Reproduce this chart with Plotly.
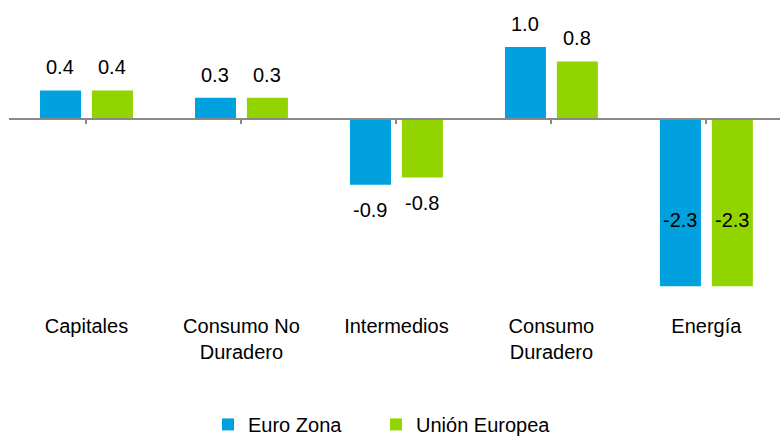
import plotly.graph_objects as go

categories = ["Capitales", "Consumo No<br>Duradero", "Intermedios", "Consumo<br>Duradero", "Energía"]
euro_zona = [0.4, 0.3, -0.9, 1.0, -2.3]
union_europea = [0.4, 0.3, -0.8, 0.8, -2.3]
series_names = ["Euro Zona", "Unión Europea"]
colors = ["#00A1DE", "#92D400"]

YMIN, YMAX = -2.35, 1.55
FONT = "Arial"
FS = 20

fig = go.Figure()
for i, (name, vals, col) in enumerate(zip(series_names, [euro_zona, union_europea], colors)):
    fig.add_trace(go.Bar(x=categories, y=vals, name=name, marker=dict(color=col, line=dict(width=0)),
                         hoverinfo="skip", legend="legend" if i == 0 else "legend2"))

# invisible trace for the zero axis
fig.add_trace(go.Scatter(x=categories, y=[0]*len(categories), xaxis="x2", mode="none",
                         showlegend=False, hoverinfo="skip"))

annotations = []
for si, vals in enumerate([euro_zona, union_europea]):
    xs = -26 if si == 0 else 26
    for c, v in zip(categories, vals):
        label = f"{v:.1f}"
        if v >= 0:
            annotations.append(dict(x=c, y=v, xref="x", yref="y", text=label, showarrow=False,
                                    xshift=xs, yshift=23, yanchor="middle",
                                    font=dict(family=FONT, size=FS, color="#000")))
        elif v - 40 / 72.5 < YMIN:
            annotations.append(dict(x=c, y=v * 0.6, xref="x", yref="y", text=label, showarrow=False,
                                    xshift=xs, yanchor="middle",
                                    font=dict(family=FONT, size=FS, color="#000")))
        else:
            annotations.append(dict(x=c, y=v, xref="x", yref="y", text=label, showarrow=False,
                                    xshift=xs, yshift=-25, yanchor="middle",
                                    font=dict(family=FONT, size=FS, color="#000")))

legend_common = dict(orientation="h", xanchor="left", y=-0.475, yanchor="middle",
                     font=dict(family=FONT, size=FS, color="#000"), bgcolor="rgba(0,0,0,0)")

fig.update_layout(
    width=780, height=436,
    margin=dict(l=9, r=0, t=7, b=146, autoexpand=False),
    paper_bgcolor="white", plot_bgcolor="white",
    barmode="group", bargap=0.33, bargroupgap=0.21,
    font=dict(family=FONT, size=FS, color="#000"),
    xaxis=dict(type="category", categoryarray=categories, range=[-0.5, 4.475],
               showline=False, showgrid=False, zeroline=False, ticks="",
               ticklabelstandoff=22, tickfont=dict(family=FONT, size=FS, color="#000")),
    xaxis2=dict(type="category", categoryarray=categories, range=[-0.5, 4.475],
                overlaying="x", anchor="free", position=(0 - YMIN) / (YMAX - YMIN), side="bottom",
                showline=True, linecolor="#898989", linewidth=2, ticks="outside", ticklen=4,
                tickwidth=1.5, tickcolor="#898989", showticklabels=False, showgrid=False, zeroline=False),
    yaxis=dict(range=[YMIN, YMAX], visible=False, showgrid=False, zeroline=False),
    showlegend=True,
    legend=dict(x=(208 - 9) / 771, **legend_common),
    legend2=dict(x=(376 - 9) / 771, **legend_common),
    annotations=annotations,
)

fig.write_html("out.html", config={"displayModeBar": False},
               post_script="document.body.style.margin='0';document.body.style.overflow='hidden';")
